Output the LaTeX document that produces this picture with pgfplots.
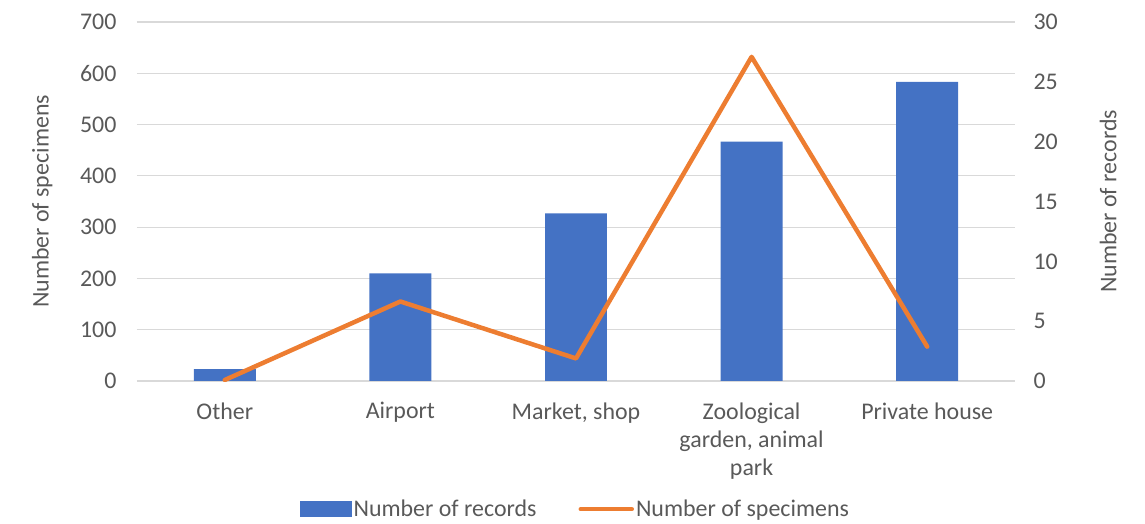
\documentclass[border=0pt]{standalone}
\usepackage{fontspec}
\setmainfont{Carlito}
\usepackage{pgfplots}
\pgfplotsset{compat=1.18}
\definecolor{barblue}{HTML}{4472C4}
\definecolor{lineorange}{HTML}{ED7D31}
\definecolor{txt}{HTML}{595959}
\definecolor{gridc}{HTML}{D9D9D9}
\begin{document}
\begin{tikzpicture}
\path[use as bounding box] (-137bp,-143bp) rectangle (1008bp,381bp);
\pgfplotsset{every axis/.append style={
  scale only axis, width=878bp, height=359bp, xmin=-0.5, xmax=4.5,
  at={(0,0)}, anchor=south west,
  font=\fontsize{24}{28.5}\selectfont,
  major tick length=0pt,
  tick label style={text=txt},
  label style={text=txt},
  /pgf/number format/assume math mode=true,
}}
% axis 1: left axis, grid, x labels
\begin{axis}[
  ymin=0, ymax=700, ytick={0,100,...,700},
  ymajorgrids, grid style={gridc, line width=1.2bp},
  axis line style={draw=none},
  xtick={0,1,2,3,4},
  xticklabels={Other, Airport, {Market, shop}, {Zoological\\garden, animal\\park}, Private house},
  xticklabel style={align=center, anchor=north, yshift=-18bp},
  yticklabel style={anchor=east, xshift=-17bp},
  ylabel={Number of specimens},
  ylabel style={at={(axis description cs:-0.108,0.5)}, anchor=center, rotate=0},
]
\addplot[draw=none, forget plot] coordinates {(0,0)};
\end{axis}
% axis 2: bars, right axis
\begin{axis}[
  ymin=0, ymax=30, ytick={0,5,...,30},
  axis y line*=right, y axis line style={draw=none},
  hide x axis,
  yticklabel style={anchor=west, xshift=15bp},
  ylabel={Number of records},
  ylabel style={at={(axis description cs:1.106,0.5)}, anchor=center, rotate=0},
]
\addplot[ybar, bar width=0.353, fill=barblue, draw=none] coordinates {
  (0,1) (1,9) (2,14) (3,20) (4,25)};
\end{axis}
% axis 3: line, left scale
\begin{axis}[
  ymin=0, ymax=700, hide axis,
  legend style={at={(axis description cs:0.4995,-0.357)}, anchor=center, draw=none, fill=none,
    legend columns=2, font=\fontsize{24}{26}\selectfont\color{txt},
    /tikz/every even column/.append style={column sep=40bp},
    legend cell align=left},
]
\addlegendimage{legend image code/.code={\fill[barblue] (0bp,-7.5bp) rectangle (51bp,7.5bp);}}
\addlegendentry{Number of records}
\addplot[lineorange, line width=4.5bp, line join=round, line cap=round,
  legend image code/.code={\draw[lineorange, line width=4.5bp, line cap=round] (2.5bp,0bp) -- (53.5bp,0bp);}]
  coordinates {(0,2) (1,155) (2,44) (3,632) (4,67)};
\addlegendentry{Number of specimens}
\end{axis}
\end{tikzpicture}
\end{document}
